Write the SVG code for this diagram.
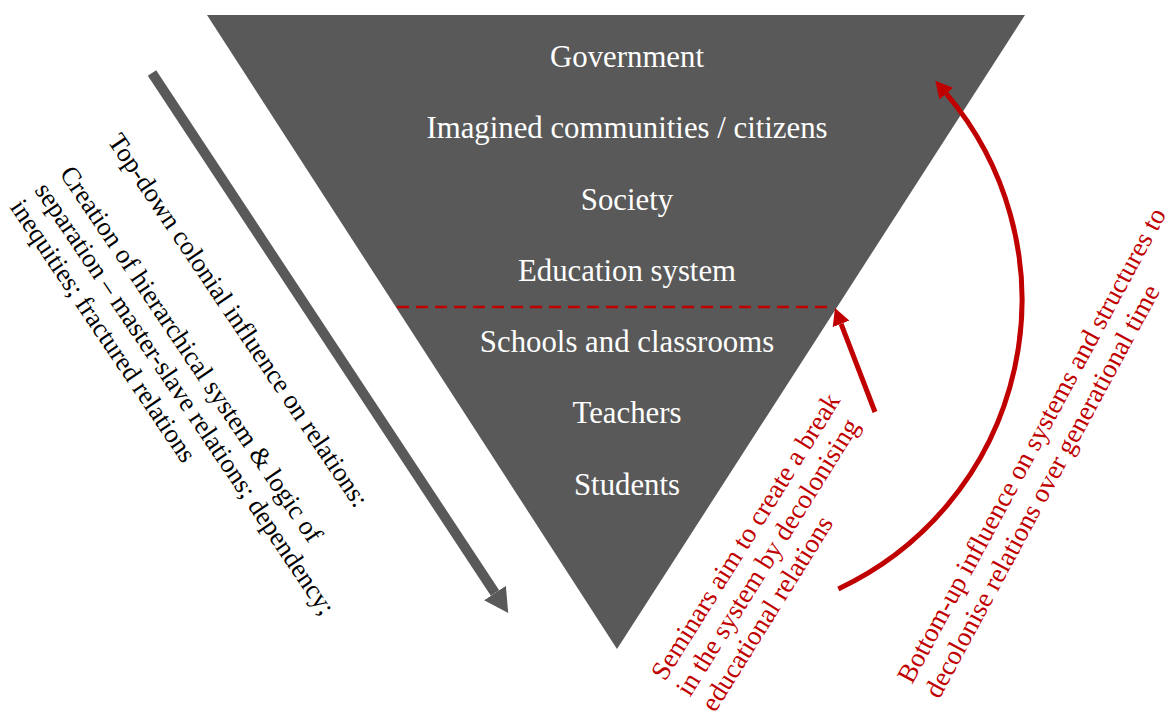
<svg xmlns="http://www.w3.org/2000/svg" width="1173" height="717" viewBox="0 0 1173 717">
  <style>
    .lvl { font-family: "Liberation Serif", "Times New Roman", serif; font-size: 30.8px; fill: #ffffff; text-anchor: middle; }
    .note { font-family: "Liberation Serif", "Times New Roman", serif; font-size: 26.5px; fill: #000000; }
    .rnote { font-family: "Liberation Serif", "Times New Roman", serif; font-size: 27px; fill: #c00000; }
    .red { fill: none; stroke: #c00000; stroke-width: 5; }
  </style>
  <defs>
    <marker id="redHead" markerUnits="userSpaceOnUse" viewBox="0 0 17 18" refX="0" refY="9" markerWidth="17" markerHeight="18" orient="auto">
      <path d="M0,0 L17,9 L0,18 Z" fill="#c00000"/>
    </marker>
    <marker id="grayHead" markerUnits="userSpaceOnUse" viewBox="0 0 24 26" refX="0" refY="13" markerWidth="24" markerHeight="26" orient="auto">
      <path d="M0,0 L24,13 L0,26 Z" fill="#595959"/>
    </marker>
  </defs>
  <rect width="1173" height="717" fill="#ffffff"/>

  <g id="triangle">
    <polygon points="207,15 1025,15 617,649" fill="#595959"/>
  </g>
  <g id="level-government"><text class="lvl" x="627" y="67">Government</text></g>
  <g id="level-imagined"><text class="lvl" x="627" y="138">Imagined communities / citizens</text></g>
  <g id="level-society"><text class="lvl" x="627" y="210">Society</text></g>
  <g id="level-education"><text class="lvl" x="627" y="281">Education system</text></g>
  <g id="level-schools"><text class="lvl" x="627" y="352">Schools and classrooms</text></g>
  <g id="level-teachers"><text class="lvl" x="627" y="423">Teachers</text></g>
  <g id="level-students"><text class="lvl" x="627" y="495">Students</text></g>

  <g id="connectors">
    <line x1="397" y1="307" x2="834" y2="307" stroke="#c00000" stroke-width="2.6" stroke-dasharray="12 7"/>
    <line x1="152" y1="73" x2="495" y2="593" stroke="#595959" stroke-width="10" marker-end="url(#grayHead)"/>
    <line class="red" x1="875" y1="412" x2="841.1" y2="323.9" marker-end="url(#redHead)"/>
    <path class="red" d="M838.3,588.9 A319,319 0 0 0 946.3,93.7" marker-end="url(#redHead)"/>
  </g>

  <g id="label-topdown">
    <text class="note" transform="translate(107,141) rotate(56)">
      <tspan x="0" y="0">Top-down colonial influence on relations:</tspan>
      <tspan x="0" y="58">Creation of hierarchical system &amp; logic of</tspan>
      <tspan x="0" y="88">separation – master-slave relations; dependency;</tspan>
      <tspan x="0" y="118">inequities; fractured relations</tspan>
    </text>
  </g>
  <g id="label-seminars">
    <text class="rnote" transform="translate(665,682) rotate(-58)">
      <tspan x="0" y="0">Seminars aim to create a break</tspan>
      <tspan x="0" y="29.5">in the system by decolonising</tspan>
      <tspan x="0" y="59">educational relations</tspan>
    </text>
  </g>
  <g id="label-bottomup">
    <text class="rnote" transform="translate(912,685) rotate(-61.6)">
      <tspan x="0" y="0">Bottom-up influence on systems and structures to</tspan>
      <tspan x="0" y="31">decolonise relations over generational time</tspan>
    </text>
  </g>
</svg>
